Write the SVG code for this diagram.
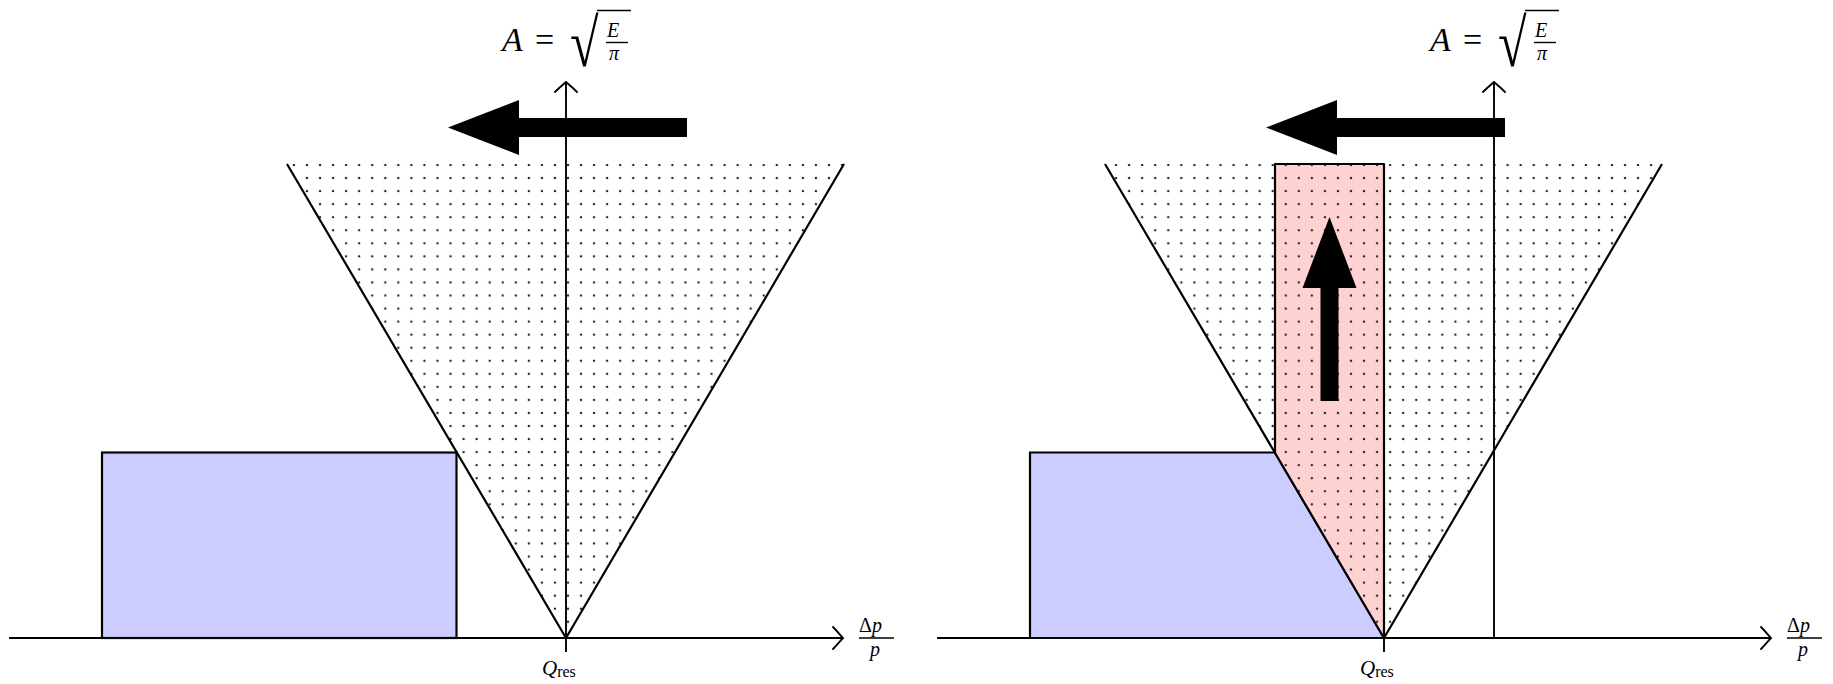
<svg xmlns="http://www.w3.org/2000/svg" width="1833" height="684" viewBox="0 0 1833 684">
<style>
.edge{fill:none;stroke:#000;stroke-width:2.2;stroke-linejoin:round}
.axis{fill:none;stroke:#000;stroke-width:1.9}
.head{fill:none;stroke:#000;stroke-width:1.9;stroke-linecap:round}
.big{fill:#000;stroke:none}
.m{font-family:"Liberation Serif",serif;fill:#000}
.i{font-style:italic}
.bar{stroke:#000;stroke-width:1.4}
</style>
<defs>
<pattern id="dots" patternUnits="userSpaceOnUse" x="0.325" y="1.875" width="13.05" height="13.05">
<circle cx="6.525" cy="6.525" r="1.2" fill="#222"/>
</pattern>
<path id="ahUp" d="M-11,10 C-6,5 -2,2 0,0 C2,2 6,5 11,10"/>
<path id="ahRight" d="M-10,-11 C-5,-6 -2,-2 0,0 C-2,2 -5,6 -10,11"/>
</defs>

<!-- LEFT PANEL -->
<g id="left-box">
<rect x="102" y="452.5" width="354.5" height="185.5" fill="#ccccff" stroke="#000" stroke-width="2.2"/>
</g>
<g id="left-cone">
<polygon points="287,164 844,164 566,638" fill="url(#dots)"/>
<path class="edge" d="M287,164 L566,638 L844,164"/>
</g>

<!-- RIGHT PANEL -->
<g id="right-box">
<polygon points="1030,452.5 1274.8,452.5 1384,638 1030,638" fill="#ccccff" stroke="#000" stroke-width="2.2" stroke-linejoin="miter"/>
</g>
<g id="right-strip">
<polygon points="1275,164 1384,164 1384,638 1274.8,452.5" fill="#ffd2d2"/>
</g>
<g id="right-cone">
<polygon points="1105,164 1662,164 1384,638" fill="url(#dots)"/>
<path class="edge" d="M1275,452.5 V164 H1384 V638"/>
<path class="edge" d="M1105,164 L1384,638 L1662,164"/>
</g>

<g id="connectors">
<path class="axis" d="M566,652 V83"/>
<use href="#ahUp" class="head" x="566" y="82"/>
<path class="axis" d="M9,638 H842"/>
<use href="#ahRight" class="head" x="843" y="638"/>
<path class="axis" d="M1494,638 V83"/>
<use href="#ahUp" class="head" x="1494" y="82"/>
<path class="axis" d="M1384,638 V652"/>
<path class="axis" d="M937,638 H1770"/>
<use href="#ahRight" class="head" x="1771" y="638"/>
</g>

<g id="left-arrow">
<path class="big" d="M687,118 H519 V100 L448,127.5 L519,155 V137 H687 Z"/>
</g>
<g id="right-arrow">
<path class="big" d="M1505,118 H1337 V100 L1266,127.5 L1337,155 V137 H1505 Z"/>
</g>
<g id="up-arrow">
<path class="big" d="M1320.5,401 V288 H1302.5 L1329.5,217 L1356.5,288 H1338.5 V401 Z"/>
</g>

<!-- LABELS -->
<g id="left-y-label">
<text class="m i" x="502" y="51" font-size="34">A</text>
<text class="m" x="535" y="51" font-size="34">=</text>
<text class="m" x="0" y="0" font-size="52" transform="translate(570,66) scale(1,1.3)">√</text>
<line class="bar" x1="597" y1="10.5" x2="631" y2="10.5"/>
<text class="m i" x="607" y="37" font-size="20">E</text>
<line class="bar" x1="606" y1="42.5" x2="628" y2="42.5"/>
<text class="m i" x="609" y="60" font-size="20">π</text>
</g>
<g id="right-y-label">
<text class="m i" x="1430" y="51" font-size="34">A</text>
<text class="m" x="1463" y="51" font-size="34">=</text>
<text class="m" x="0" y="0" font-size="52" transform="translate(1498,66) scale(1,1.3)">√</text>
<line class="bar" x1="1525" y1="10.5" x2="1559" y2="10.5"/>
<text class="m i" x="1535" y="37" font-size="20">E</text>
<line class="bar" x1="1534" y1="42.5" x2="1556" y2="42.5"/>
<text class="m i" x="1537" y="60" font-size="20">π</text>
</g>
<g id="left-x-label">
<text class="m" x="859" y="632" font-size="20">Δ<tspan class="i">p</tspan></text>
<line class="bar" x1="859" y1="638" x2="894" y2="638"/>
<text class="m i" x="870" y="656" font-size="20">p</text>
</g>
<g id="right-x-label">
<text class="m" x="1787" y="632" font-size="20">Δ<tspan class="i">p</tspan></text>
<line class="bar" x1="1787" y1="638" x2="1822" y2="638"/>
<text class="m i" x="1798" y="656" font-size="20">p</text>
</g>
<g id="left-q-label">
<text class="m" x="542" y="675" font-size="21"><tspan class="i">Q</tspan><tspan font-size="16" dy="2">res</tspan></text>
</g>
<g id="right-q-label">
<text class="m" x="1360" y="675" font-size="21"><tspan class="i">Q</tspan><tspan font-size="16" dy="2">res</tspan></text>
</g>
</svg>
